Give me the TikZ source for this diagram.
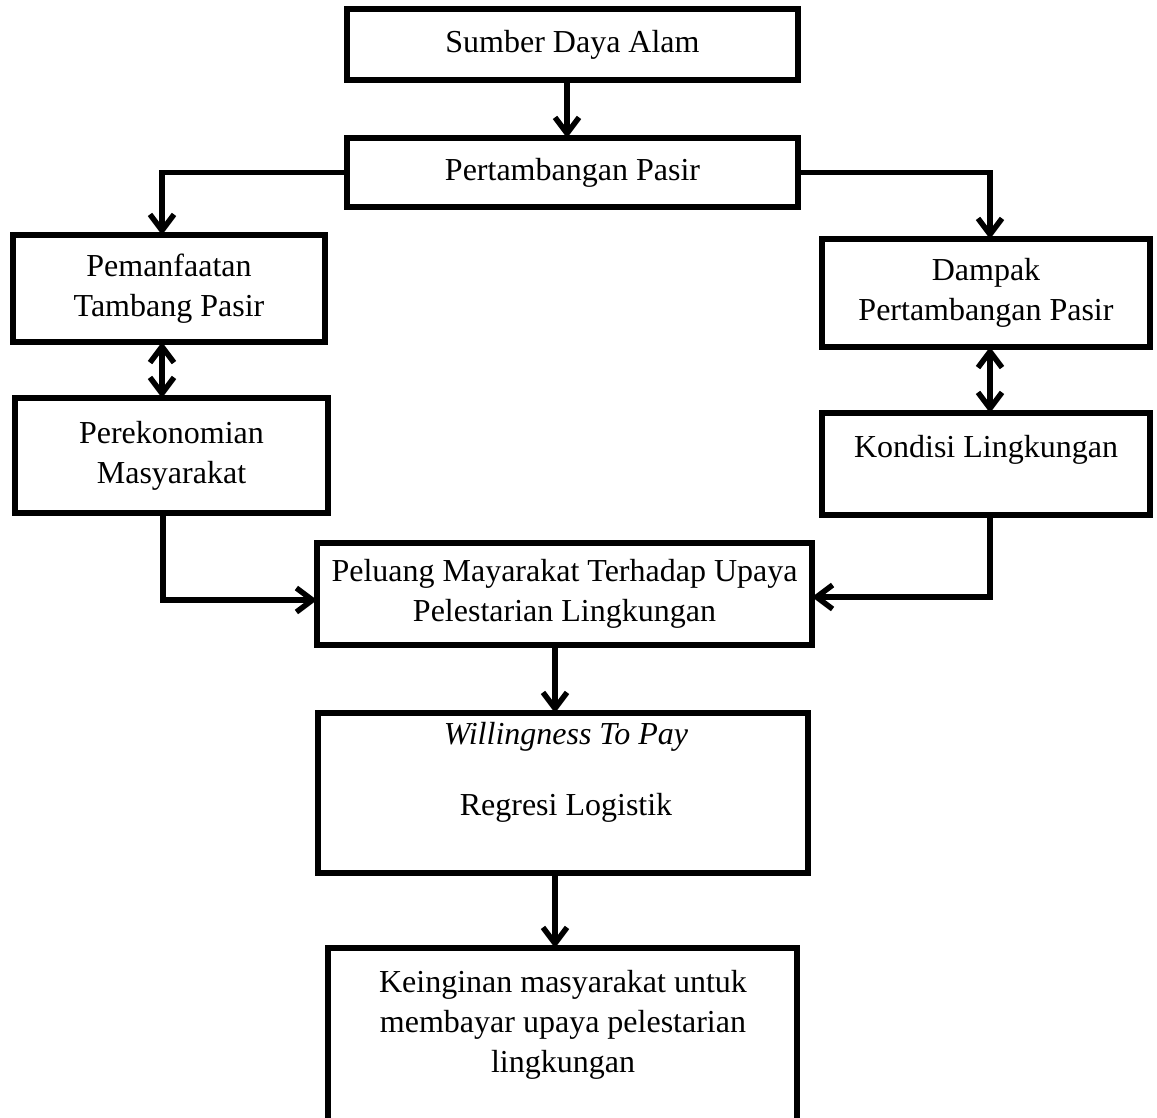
\documentclass[tikz,border=0pt]{standalone}
\usepackage{fontspec}
\setmainfont{Liberation Serif}
\usetikzlibrary{arrows.meta,calc}
\begin{document}
\begin{tikzpicture}[x=1pt,y=-1pt,
  box/.style={draw=black,line width=5.5pt,inner sep=0pt,outer sep=0pt,align=center,font=\fontsize{32}{40}\selectfont},
  lbl/.style={inner sep=0pt,align=center,font=\fontsize{32}{40}\selectfont},
  conn/.style={line width=5.5pt,-{Straight Barb[length=16pt,width=24pt]}},
  dconn/.style={line width=5.5pt,{Straight Barb[length=16pt,width=24pt]}-{Straight Barb[length=16pt,width=24pt]}}]
\useasboundingbox (0,0) rectangle (1157,1117);
\clip (0,0) rectangle (1157,1117);
\fill[white] (0,0) rectangle (1157,1117);

\node[box,minimum width=451pt,minimum height=71pt] (b1) at (572.5,44.5) {Sumber Daya Alam};
\node[box,minimum width=451pt,minimum height=69pt] (b2) at (572.5,172.5) {Pertambangan Pasir};
\node[box,minimum width=312pt,minimum height=107pt] (b3) at (169,288.5) {Pemanfaatan\\Tambang Pasir};
\node[box,minimum width=313pt,minimum height=115pt] (b4) at (171.5,455.5) {Perekonomian\\Masyarakat};
\node[box,minimum width=328pt,minimum height=108pt] (b5) at (986,293) {Dampak\\Pertambangan Pasir};
\node[box,minimum width=328pt,minimum height=102pt] (b6) at (986,464) {};
\node[lbl] (t6) at (986,450) {Kondisi Lingkungan};
\node[box,minimum width=495pt,minimum height=102pt] (b7) at (564.5,594) {Peluang Mayarakat Terhadap Upaya\\Pelestarian Lingkungan};
\node[box,minimum width=490pt,minimum height=160pt] (b8) at (563,793) {};
\node[lbl] (t8a) at (566,737) {\itshape Willingness To Pay};
\node[lbl] (t8b) at (566,808) {Regresi Logistik};
\node[box,minimum width=469pt,minimum height=200pt] (b9) at (562.5,1048) {};
\node[lbl] (t9) at (563,1025) {Keinginan masyarakat untuk\\membayar upaya pelestarian\\lingkungan};

\draw[conn] ([xshift=-5.5pt]b1.south) -- ([xshift=-5.5pt]b1.south |- b2.north);
\draw[conn] (b2.west) -| ([xshift=-7pt]b3.north);
\draw[conn] (b2.east) -| ([xshift=4pt]b5.north);
\draw[dconn] ([xshift=-7pt]b3.south) -- ([xshift=-7pt]b3.south |- b4.north);
\draw[dconn] ([xshift=4pt]b5.south) -- ([xshift=4pt]b5.south |- b6.north);
\draw[conn] ([xshift=-8.5pt]b4.south) |- ([yshift=-6pt]b7.west);
\draw[conn] ([xshift=4pt]b6.south) |- ([yshift=-3pt]b7.east);
\draw[conn] ([xshift=-9.5pt]b7.south) -- ([xshift=-9.5pt]b7.south |- b8.north);
\draw[conn] ([xshift=-8pt]b8.south) -- ([xshift=-8pt]b8.south |- b9.north);
\end{tikzpicture}
\end{document}
